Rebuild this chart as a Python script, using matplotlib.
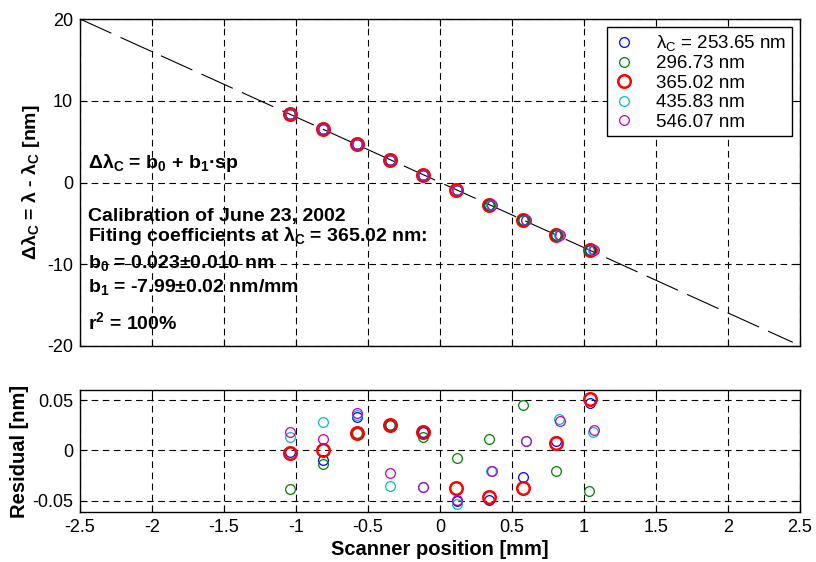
import numpy as np
import matplotlib
matplotlib.use('Agg')
import matplotlib.pyplot as plt

plt.rcParams['font.family'] = ['Liberation Sans', 'DejaVu Sans']
plt.rcParams['mathtext.fontset'] = 'custom'
plt.rcParams['mathtext.rm'] = 'Liberation Sans'
plt.rcParams['mathtext.it'] = 'Liberation Sans:italic'
plt.rcParams['mathtext.bf'] = 'Liberation Sans:bold'
plt.rcParams['axes.unicode_minus'] = False

# nominal wavelength offsets (nm)
dl = [8.35, 6.53, 4.66, 2.80, 0.95, -0.90, -2.75, -4.62, -6.42, -8.30]

labels = [r'λ$_\mathrm{C}$ = 253.65 nm', '296.73 nm', '365.02 nm',
          '435.83 nm', '546.07 nm']
colors = ['#0000ff', '#008000', '#ff0000', '#00bfbf', '#bf00bf']

x_blue = [-1.042, -0.815, -0.579, -0.347, -0.116, 0.116, 0.342, 0.578, 0.806, 1.042]
x_green = [-1.042, -0.815, -0.579, -0.347, -0.116, 0.116, 0.342, 0.578, 0.806, 1.038]
x_red = [-1.045, -0.815, -0.579, -0.347, -0.116, 0.113, 0.340, 0.575, 0.806, 1.045]
x_cyan = [-1.042, -0.812, -0.579, -0.347, -0.120, 0.116, 0.355, 0.595, 0.825, 1.060]
x_mag = [-1.042, -0.812, -0.579, -0.347, -0.120, 0.116, 0.360, 0.600, 0.830, 1.068]

r_blue = [-0.001, -0.0097, 0.033, 0.025, 0.0185, -0.0504, -0.0494, -0.0262, 0.0096, 0.0467]
r_green = [-0.0385, -0.013, 0.0175, 0.025, 0.0135, -0.007, 0.0112, 0.0447, -0.0203, -0.0405]
r_red = [-0.0027, 0.0, 0.017, 0.0248, 0.0185, -0.0375, -0.0464, -0.0368, 0.0073, 0.0507]
r_cyan = [0.013, 0.028, 0.035, -0.0348, -0.036, -0.0527, -0.0203, 0.0096, 0.0308, 0.0185]
r_mag = [0.0185, 0.0112, 0.0368, -0.0222, -0.036, -0.049, -0.0203, 0.0096, 0.0288, 0.0202]

xs = [x_blue, x_green, x_red, x_cyan, x_mag]
rs = [r_blue, r_green, r_red, r_cyan, r_mag]

b0 = 0.023
b1 = -7.99
fit_x = np.array([-2.5, 2.45])

fig = plt.figure(figsize=(8.16, 5.62), dpi=100)
ax1 = fig.add_axes([80/816, 1-346/562, 720/816, 327/562])
ax2 = fig.add_axes([80/816, 1-512/562, 720/816, 122/562])

grid_kw = dict(color='black', linestyle=(0, (6, 4)), linewidth=0.8)

ax1.plot(fit_x, b0 + b1*fit_x, color='black', linewidth=0.8, dashes=(31, 9))
for i in range(5):
    big = (i == 2)
    ax1.plot(xs[i], dl, 'o', mfc='none', mec=colors[i],
             ms=9 if big else 7, mew=1.8 if big else 0.9,
             label=labels[i], zorder=3 if not big else 2)
ax1.set_xlim(-2.5, 2.5)
ax1.set_ylim(-20, 20)
ax1.set_xticks(np.arange(-2.5, 2.51, 0.5))
ax1.set_xticklabels([])
ax1.set_yticks([-20, -10, 0, 10, 20])
ax1.grid(True, **grid_kw)
ax1.set_ylabel(r'Δλ$_\mathbf{C}$ = λ - λ$_\mathbf{C}$ [nm]', fontsize=14,
               fontweight='bold', labelpad=4)
leg = ax1.legend(loc='upper right', fontsize=13.5, fancybox=False,
                 edgecolor='black', framealpha=1, borderaxespad=0.45,
                 handletextpad=1.1, labelspacing=0.12, borderpad=0.3,
                 handlelength=1.2)
leg.get_frame().set_linewidth(1.0)

txt_kw = dict(transform=ax1.transAxes, fontsize=14, fontweight='bold',
              va='center', ha='left')
ax1.text(0.011, 0.56, r'Δλ$_\mathbf{C}$ = b$_\mathbf{0}$ + b$_\mathbf{1}$·sp', **txt_kw)
ax1.text(0.011, 0.395, 'Calibration of June 23, 2002', **txt_kw)
ax1.text(0.011, 0.336, r'Fiting coefficients at λ$_\mathbf{C}$ = 365.02 nm:', **txt_kw)
ax1.text(0.011, 0.254, r'b$_\mathbf{0}$ = 0.023±0.010 nm', **txt_kw)
ax1.text(0.011, 0.18, r'b$_\mathbf{1}$ = -7.99±0.02 nm/mm', **txt_kw)
ax1.text(0.011, 0.073, r'r$^\mathbf{2}$ = 100%', **txt_kw)

for i in range(5):
    big = (i == 2)
    ax2.plot(xs[i], rs[i], 'o', mfc='none', mec=colors[i],
             ms=9 if big else 7, mew=1.8 if big else 0.9)
ax2.set_xlim(-2.5, 2.5)
ax2.set_ylim(-0.061, 0.06)
ax2.set_xticks(np.arange(-2.5, 2.51, 0.5))
ax2.set_xticklabels(['-2.5', '-2', '-1.5', '-1', '-0.5', '0', '0.5', '1',
                     '1.5', '2', '2.5'])
ax2.set_yticks([-0.05, 0, 0.05])
ax2.set_yticklabels(['-0.05', '0', '0.05'])
ax2.grid(True, **grid_kw)
ax2.set_xlabel('Scanner position [mm]', fontsize=14.5, fontweight='bold', labelpad=3)
ax2.set_ylabel('Residual [nm]', fontsize=14.5, fontweight='bold', labelpad=2)

for ax in (ax1, ax2):
    ax.tick_params(direction='in', top=True, right=True, labelsize=13,
                   length=5, width=0.8, pad=5)
    for s in ax.spines.values():
        s.set_linewidth(1.0)

fig.savefig('out.png', dpi=100)
